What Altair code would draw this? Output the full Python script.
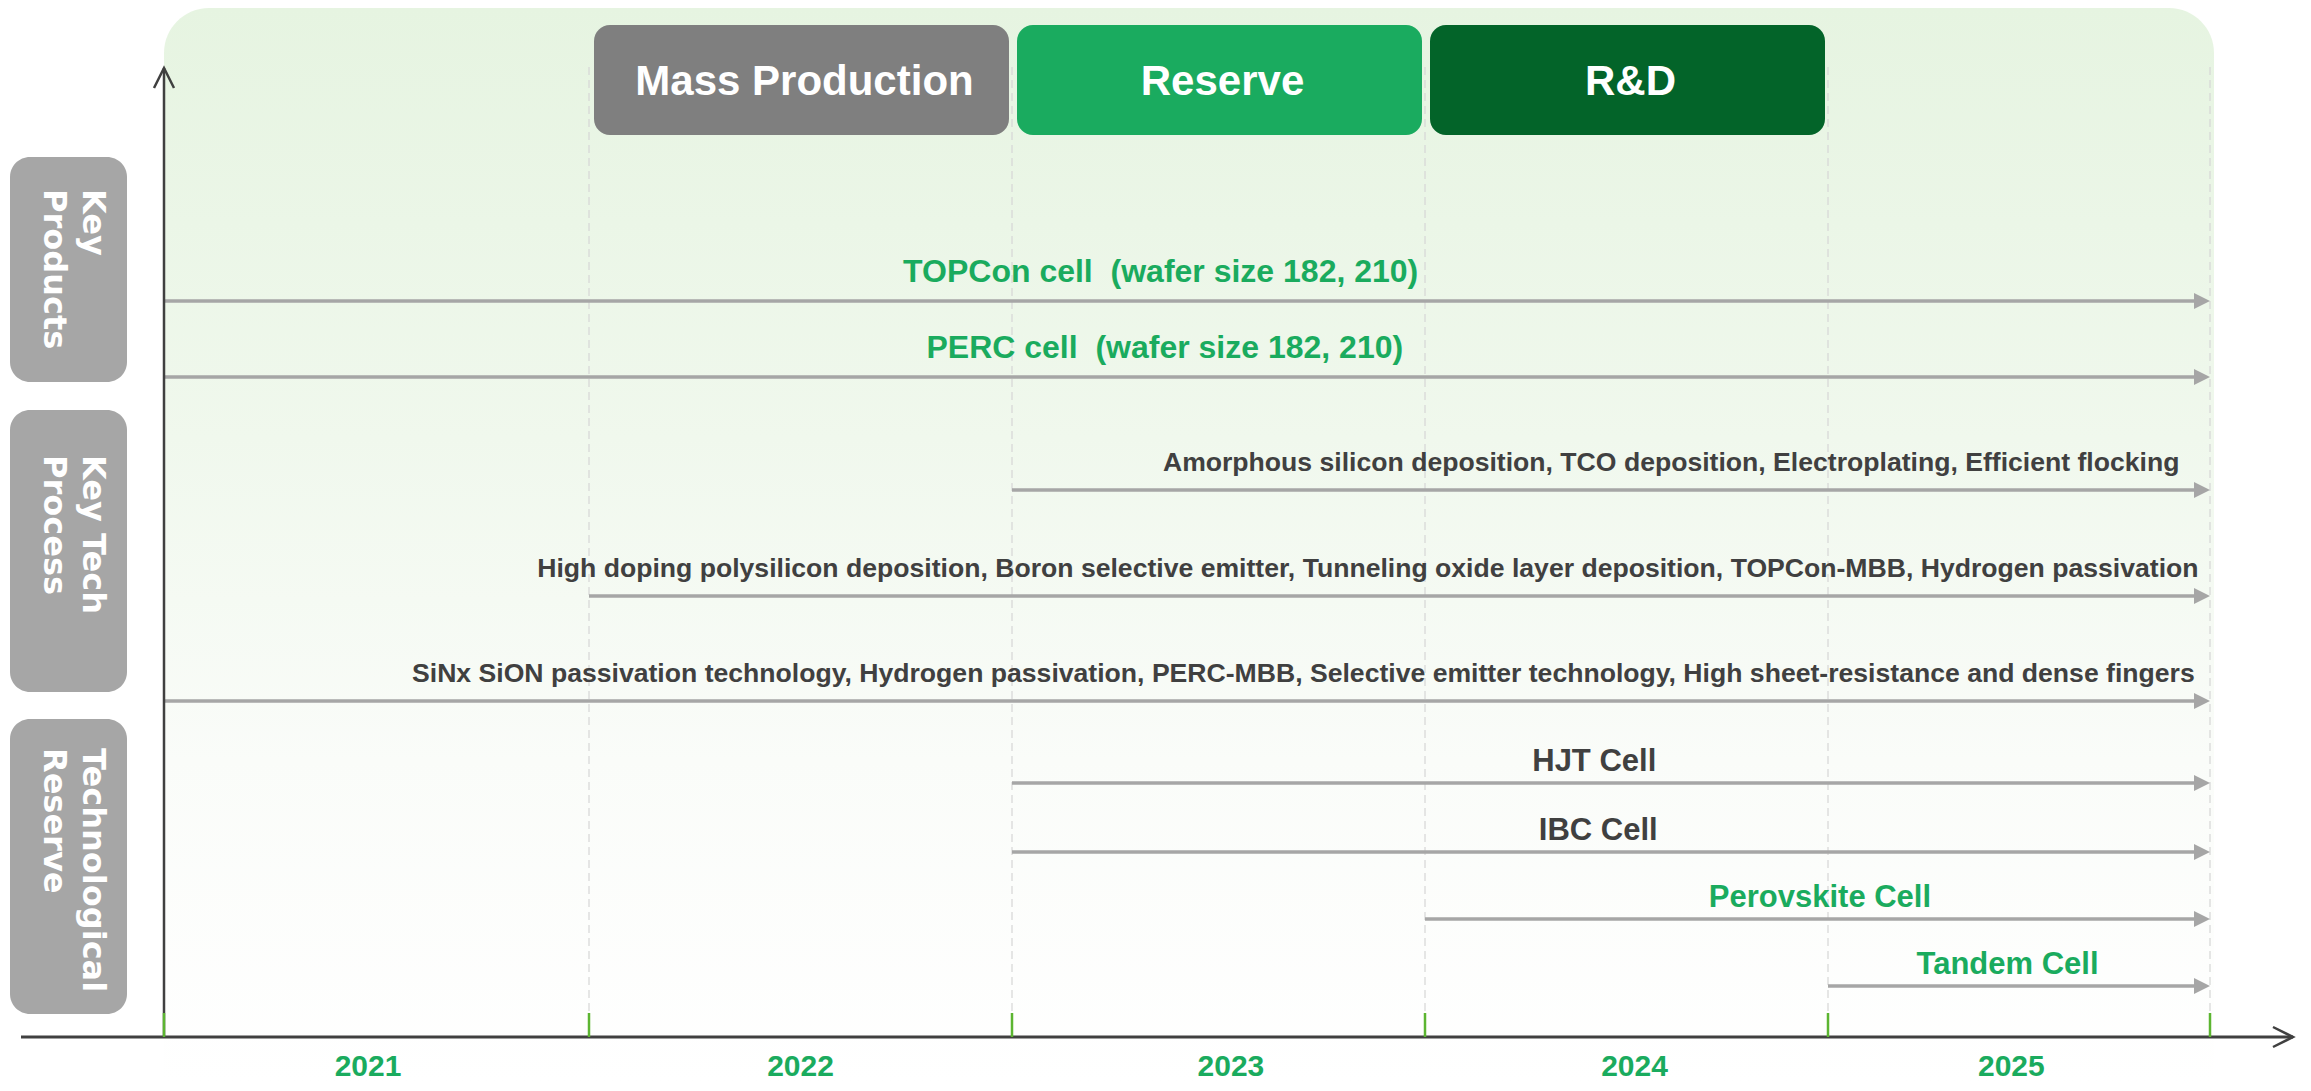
import altair as alt
import pandas as pd

# ---------------- data ----------------
boundaries = [2021, 2022, 2023, 2024, 2025, 2026]
year_labels = ["2021", "2022", "2023", "2024", "2025"]
year_label_at = [2021.48, 2022.5, 2023.53, 2024.52, 2025.48]

phases = ["Mass Production", "Reserve", "R&D"]
phase_start = [2022, 2023, 2024]
phase_end = [2023, 2024, 2025]

sections = ["Key\nProducts", "Key Tech\nProcess", "Technological\nReserve"]

items = [
    "TOPCon cell\u00a0\u00a0(wafer size 182, 210)",
    "PERC cell\u00a0\u00a0(wafer size 182, 210)",
    "Amorphous silicon deposition, TCO deposition, Electroplating, Efficient flocking",
    "High doping polysilicon deposition, Boron selective emitter, Tunneling oxide layer deposition, TOPCon-MBB, Hydrogen passivation",
    "SiNx SiON passivation technology, Hydrogen passivation, PERC-MBB, Selective emitter technology, High sheet-resistance and dense fingers",
    "HJT Cell",
    "IBC Cell",
    "Perovskite Cell",
    "Tandem Cell",
]
item_row = [1, 2, 3, 4, 5, 6, 7, 8, 9]
item_start = [2021, 2021, 2023, 2022, 2021, 2023, 2023, 2024, 2025]
item_end = [2026, 2026, 2026, 2026, 2026, 2026, 2026, 2026, 2026]
item_kind = ["product", "product", "process", "process", "process",
             "reserve", "reserve", "research", "research"]
label_at = [2023.36, 2023.37, 2025.92, 2025.97, 2025.96, 2024.42, 2024.43, 2024.98, 2025.47]

# ---------------- layout / style constants ----------------
W, H = 2295, 1075
X_PX = [156, 581, 1004, 1417, 1820, 2202]          # pixel position of each year boundary
ROW_PX = [293, 369, 482, 588, 693, 775, 844, 911, 978]
SEC_BOX = [(149, 374), (402, 684), (711, 1006)]
SEC_TEXT_Y = [181, 447, 740]

FONT = "Liberation Sans"
GREEN = "#1aab5e"
DARK = "#404040"
LINE = "#a6a6a6"
PHASE_COLORS = ["#7f7f7f", "#1aab5f", "#036429"]
KINDS = ["product", "process", "reserve", "research"]
KIND_COLORS = [GREEN, DARK, DARK, GREEN]

xs = alt.Scale(domain=boundaries, range=X_PX, nice=False, zero=False)
ys = alt.Scale(domain=item_row, range=ROW_PX, nice=False, zero=False)


def X(f):
    return alt.X(f, type="quantitative", scale=xs, axis=None)


def Y(f):
    return alt.Y(f, type="quantitative", scale=ys, axis=None)


span_df = pd.DataFrame({"s": [boundaries[0]], "e": [boundaries[-1]]})
bnd_df = pd.DataFrame({"b": boundaries})
grid_df = pd.DataFrame({"b": boundaries[1:]})
year_df = pd.DataFrame({"label": year_labels, "at": year_label_at})
phase_df = pd.DataFrame({"phase": phases, "start": phase_start, "end": phase_end})
item_df = pd.DataFrame({"item": items, "row": item_row, "start": item_start,
                        "end": item_end, "kind": item_kind, "at": label_at})

layers = []

# background panel
grad = alt.LinearGradient(
    gradient="linear",
    stops=[alt.GradientStop(offset=0, color="#e6f4e1"),
           alt.GradientStop(offset=0.4, color="#f0f8ed"),
           alt.GradientStop(offset=0.7, color="#fafcf9"),
           alt.GradientStop(offset=1, color="#ffffff")],
    x1=0, x2=0, y1=0, y2=1)
layers.append(
    alt.Chart(span_df).mark_rect(fill=grad, cornerRadiusTopLeft=45, cornerRadiusTopRight=45,
                                 x2Offset=4)
    .encode(x=X("s"), x2="e", y=alt.value(0), y2=alt.value(H))
)

# dashed gridlines
layers.append(
    alt.Chart(grid_df).mark_rule(color="#d6d6d6", strokeWidth=1.2, strokeDash=[8, 5])
    .encode(x=X("b"), y=alt.value(59), y2=alt.value(1005))
)

# phase header boxes
layers.append(
    alt.Chart(phase_df).mark_rect(cornerRadius=16, xOffset=5, x2Offset=-3)
    .encode(x=X("start"), x2="end", y=alt.value(17), y2=alt.value(127),
            fill=alt.Fill("phase:N", scale=alt.Scale(domain=phases, range=PHASE_COLORS),
                          legend=None))
)
layers.append(
    alt.Chart(phase_df).transform_calculate(mid="(datum.start + datum.end) / 2")
    .mark_text(font=FONT, fontSize=42, fontWeight="bold", color="white",
               baseline="middle", align="center", dx=4)
    .encode(x=X("mid"), y=alt.value(74), text="phase:N")
)

# section boxes on the left
for name, (y0, y1), ty in zip(sections, SEC_BOX, SEC_TEXT_Y):
    sdf = pd.DataFrame({"sec": [name]})
    layers.append(
        alt.Chart(sdf).mark_rect(color="#a6a6a6", cornerRadius=20)
        .encode(x=alt.value(2), x2=alt.value(119), y=alt.value(y0), y2=alt.value(y1))
    )
    layers.append(
        alt.Chart(sdf).mark_text(font="DejaVu Sans", fontSize=32, fontWeight="bold",
                                 color="white", angle=90, align="left", baseline="middle",
                                 lineBreak="\n", lineHeight=39)
        .encode(x=alt.value(85), y=alt.value(ty), text="sec:N")
    )

# item arrows
layers.append(
    alt.Chart(item_df).mark_rule(color=LINE, strokeWidth=3.5, x2Offset=-12)
    .encode(x=X("start"), x2="end", y=Y("row"))
)
layers.append(
    alt.Chart(item_df).mark_point(shape="M-1,-1L1,0L-1,1Z", filled=True, size=256,
                                  color=LINE, opacity=1, xOffset=-8)
    .encode(x=X("end"), y=Y("row"))
)

label_color = alt.Color("kind:N", scale=alt.Scale(domain=KINDS, range=KIND_COLORS), legend=None)
layers.append(
    alt.Chart(item_df).transform_filter(alt.datum.kind == "product")
    .mark_text(font=FONT, fontSize=32, fontWeight="bold", align="center",
               baseline="middle", dy=-29)
    .encode(x=X("at"), y=Y("row"), text="item:N", color=label_color)
)
layers.append(
    alt.Chart(item_df).transform_filter(alt.datum.kind == "process")
    .mark_text(font=FONT, fontSize=26.6, fontWeight="bold", align="right",
               baseline="middle", dy=-27)
    .encode(x=X("at"), y=Y("row"), text="item:N", color=label_color)
)
layers.append(
    alt.Chart(item_df).transform_filter((alt.datum.kind == "reserve") | (alt.datum.kind == "research"))
    .mark_text(font=FONT, fontSize=31, fontWeight="bold", align="center",
               baseline="middle", dy=-21)
    .encode(x=X("at"), y=Y("row"), text="item:N", color=label_color)
)

# axes
layers.append(
    alt.Chart(span_df).mark_rule(color=DARK, strokeWidth=2.5)
    .encode(x=X("s"), y=alt.value(60), y2=alt.value(1029))
)
layers.append(
    alt.Chart(span_df).mark_point(shape="M-1,1L0,-1L1,1", filled=False, size=400,
                                  color=DARK, strokeWidth=2.5, opacity=1)
    .encode(x=X("s"), y=alt.value(70))
)
layers.append(
    alt.Chart(span_df).mark_rule(color=DARK, strokeWidth=3)
    .encode(x=alt.value(13), x2=alt.value(2285), y=alt.value(1029))
)
layers.append(
    alt.Chart(span_df).mark_point(shape="M-1,-1L1,0L-1,1", filled=False, size=400,
                                  color=DARK, strokeWidth=2.5, opacity=1)
    .encode(x=alt.value(2275), y=alt.value(1029))
)
layers.append(
    alt.Chart(bnd_df).mark_rule(color="#5cb531", strokeWidth=2.5)
    .encode(x=X("b"), y=alt.value(1005), y2=alt.value(1029))
)
layers.append(
    alt.Chart(year_df).mark_text(font=FONT, fontSize=30, fontWeight="bold", color=GREEN,
                                 align="center", baseline="middle")
    .encode(x=X("at"), y=alt.value(1059), text="label:N")
)

chart = (
    alt.layer(*layers)
    .properties(width=W, height=H, autosize=alt.AutoSizeParams(type="none"), padding=0)
    .configure_view(strokeWidth=0)
)

chart.save("out.html", embed_options={"renderer": "svg", "actions": False})
